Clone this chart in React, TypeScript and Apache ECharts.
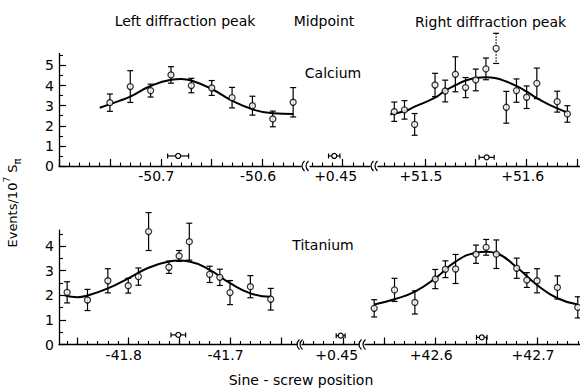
import React, { useEffect, useRef } from 'react';
import * as echarts from 'echarts';

const FONT = "'DejaVu Sans', 'Liberation Sans', sans-serif";
const INK = '#000';

// ---------- Calcium, left diffraction peak ----------
const caLeftX = [-50.75, -50.73, -50.71, -50.69, -50.67, -50.65, -50.63, -50.61, -50.59, -50.57];
const caLeftY = [3.15, 3.95, 3.75, 4.53, 4.0, 3.88, 3.4, 3.0, 2.34, 3.17];
const caLeftErr = [0.43, 0.79, 0.32, 0.41, 0.36, 0.37, 0.51, 0.47, 0.39, 0.73];
const caLeftFitX = [-50.76, -50.74, -50.73, -50.71, -50.69, -50.68, -50.67, -50.65, -50.63, -50.61, -50.59, -50.57];
const caLeftFitY = [2.9, 3.25, 3.45, 3.98, 4.29, 4.33, 4.25, 3.83, 3.25, 2.82, 2.62, 2.59];

// ---------- Calcium, right diffraction peak ----------
const caRightX = [51.47, 51.48, 51.49, 51.51, 51.52, 51.53, 51.54, 51.55, 51.56, 51.57, 51.58, 51.59, 51.6, 51.61, 51.63, 51.64];
const caRightY = [2.7, 2.79, 2.07, 4.03, 3.73, 4.56, 3.9, 4.28, 4.83, 5.85, 2.92, 3.75, 3.42, 4.11, 3.2, 2.59];
const caRightErr = [0.48, 0.46, 0.54, 0.58, 0.54, 0.87, 0.5, 0.54, 0.54, 0.75, 0.79, 0.58, 0.56, 0.76, 0.52, 0.41];
const caRightDotted = 9; // index of the point drawn with a dotted error bar
const caRightFitX = [51.466, 51.48, 51.49, 51.51, 51.52, 51.53, 51.54, 51.55, 51.56, 51.57, 51.58, 51.59, 51.6, 51.61, 51.62, 51.63, 51.64];
const caRightFitY = [2.57, 2.72, 2.95, 3.4, 3.75, 4.02, 4.25, 4.38, 4.42, 4.36, 4.2, 3.98, 3.7, 3.38, 3.1, 2.87, 2.66];

// ---------- Titanium, left diffraction peak ----------
const tiLeftX = [-41.86, -41.84, -41.82, -41.8, -41.79, -41.78, -41.76, -41.75, -41.74, -41.72, -41.71, -41.7, -41.68, -41.66];
const tiLeftY = [2.12, 1.81, 2.59, 2.39, 2.76, 4.59, 3.14, 3.6, 4.18, 2.85, 2.73, 2.11, 2.35, 1.84];
const tiLeftErr = [0.43, 0.43, 0.49, 0.3, 0.35, 0.77, 0.25, 0.22, 0.75, 0.33, 0.33, 0.49, 0.45, 0.44];
const tiLeftFitX = [-41.862, -41.85, -41.84, -41.82, -41.8, -41.78, -41.76, -41.75, -41.74, -41.72, -41.7, -41.68, -41.66];
const tiLeftFitY = [1.99, 1.92, 1.99, 2.28, 2.69, 3.12, 3.37, 3.41, 3.37, 3.03, 2.49, 2.08, 1.94];

// ---------- Titanium, right diffraction peak ----------
const tiRightX = [42.54, 42.56, 42.58, 42.6, 42.61, 42.62, 42.64, 42.65, 42.66, 42.68, 42.69, 42.7, 42.72, 42.74];
const tiRightY = [1.47, 2.22, 1.71, 2.66, 3.06, 3.07, 3.67, 3.95, 3.67, 3.1, 2.62, 2.59, 2.32, 1.51];
const tiRightErr = [0.35, 0.47, 0.47, 0.39, 0.34, 0.59, 0.37, 0.32, 0.58, 0.41, 0.3, 0.49, 0.47, 0.43];
const tiRightFitX = [42.54, 42.56, 42.58, 42.6, 42.62, 42.64, 42.65, 42.66, 42.68, 42.7, 42.72, 42.74];
const tiRightFitY = [1.63, 1.84, 2.15, 2.69, 3.37, 3.73, 3.77, 3.71, 3.14, 2.42, 1.88, 1.63];

// ---------- Peak-centre markers: [x, y, half-width] ----------
const caMarkLeft = [-50.683, 0.5, 0.0103];
const caMarkMid = [0.4418, 0.5, 0.0056];
const caMarkRight = [51.5607, 0.43, 0.0074];
const tiMarkLeft = [-41.7508, 0.39, 0.0072];
const tiMarkMid = [0.447, 0.36, 0.0044];
const tiMarkRight = [42.6457, 0.29, 0.0052];

// ---------- Tick labels ----------
const yTopTicks = [0, 1, 2, 3, 4, 5];
const yBotTicks = [0, 1, 2, 3, 4];
const caLeftTicks = [-50.7, -50.6];
const caLeftTickText = ['-50.7', '-50.6'];
const caMidTicks = [0.45];
const caMidTickText = ['+0.45'];
const caRightTicks = [51.5, 51.6];
const caRightTickText = ['+51.5', '+51.6'];
const tiLeftTicks = [-41.8, -41.7];
const tiLeftTickText = ['-41.8', '-41.7'];
const tiMidTicks = [0.45];
const tiMidTickText = ['+0.45'];
const tiRightTicks = [42.6, 42.7];
const tiRightTickText = ['+42.6', '+42.7'];

function stepValues(min: number, max: number, step: number): number[] {
  const out: number[] = [];
  let k = Math.ceil(min / step - 1e-7);
  while (k * step <= max + 1e-7) {
    out.push(Math.round(k * step * 10000) / 10000);
    k++;
  }
  return out;
}

function halfValues(maxInt: number): number[] {
  const out: number[] = [];
  for (let i = 0; i <= maxInt; i++) out.push(i + 0.5);
  return out;
}

const TOP = { top: 53.4, height: 112.6, ymax: 5.6 };
const BOT = { top: 230.1, height: 114.4, ymax: 4.65 };

const panels = [
  { row: TOP, left: 59, width: 242, xmin: -50.8, xmax: -50.5623, ticks: caLeftTicks, text: caLeftTickText, pad: 9, yTicks: yTopTicks },
  { row: TOP, left: 310, width: 60, xmin: 0.418, xmax: 0.4769, ticks: caMidTicks, text: caMidTickText, pad: 14, yTicks: null },
  { row: TOP, left: 378, width: 202, xmin: 51.454, xmax: 51.6524, ticks: caRightTicks, text: caRightTickText, pad: 8, yTicks: null },
  { row: BOT, left: 59, width: 238, xmin: -41.868, xmax: -41.6342, ticks: tiLeftTicks, text: tiLeftTickText, pad: 9, yTicks: yBotTicks },
  { row: BOT, left: 302, width: 57, xmin: 0.409, xmax: 0.465, ticks: tiMidTicks, text: tiMidTickText, pad: 14, yTicks: null },
  { row: BOT, left: 365, width: 215, xmin: 42.531, xmax: 42.7422, ticks: tiRightTicks, text: tiRightTickText, pad: 8, yTicks: null },
];

const peaks = [
  { gi: 0, x: caLeftX, y: caLeftY, e: caLeftErr, fx: caLeftFitX, fy: caLeftFitY, dotted: -1 },
  { gi: 2, x: caRightX, y: caRightY, e: caRightErr, fx: caRightFitX, fy: caRightFitY, dotted: caRightDotted },
  { gi: 3, x: tiLeftX, y: tiLeftY, e: tiLeftErr, fx: tiLeftFitX, fy: tiLeftFitY, dotted: -1 },
  { gi: 5, x: tiRightX, y: tiRightY, e: tiRightErr, fx: tiRightFitX, fy: tiRightFitY, dotted: -1 },
];

const marks = [caMarkLeft, caMarkMid, caMarkRight, tiMarkLeft, tiMarkMid, tiMarkRight];

function buildOption() {
  const grid = panels.map((p) => ({ left: p.left, width: p.width, top: p.row.top, height: p.row.height }));
  const xAxis: any[] = [];
  const yAxis: any[] = [];
  panels.forEach((p, gi) => {
    const major = stepValues(p.xmin, p.xmax, 0.05);
    const minor = stepValues(p.xmin, p.xmax, 0.01);
    xAxis.push({
      type: 'value', gridIndex: gi, min: p.xmin, max: p.xmax, position: 'bottom',
      axisLine: { show: true, onZero: false, lineStyle: { color: INK, width: 1.3 } },
      axisTick: { show: true, inside: true, length: 7, customValues: major, lineStyle: { color: INK, width: 1.2 } },
      axisLabel: {
        show: true, customValues: p.ticks, margin: 3, padding: [0, p.pad, 0, 0],
        color: INK, fontFamily: FONT, fontSize: 14,
        formatter: (v: number) => {
          let best = 0;
          p.ticks.forEach((t, i) => { if (Math.abs(t - v) < Math.abs(p.ticks[best] - v)) best = i; });
          return p.text[best];
        },
      },
      splitLine: { show: false },
    });
    xAxis.push({
      type: 'value', gridIndex: gi, min: p.xmin, max: p.xmax, position: 'bottom',
      axisLine: { show: false, onZero: false },
      axisTick: { show: true, inside: true, length: 3.5, customValues: minor, lineStyle: { color: INK, width: 1.1 } },
      axisLabel: { show: false },
      splitLine: { show: false },
    });
    const showY = !!p.yTicks;
    yAxis.push({
      type: 'value', gridIndex: gi, min: 0, max: p.row.ymax, position: 'left', show: showY,
      axisLine: { show: showY, onZero: false, lineStyle: { color: INK, width: 1.3 } },
      axisTick: { show: showY, inside: true, length: 7, customValues: p.yTicks || [0], lineStyle: { color: INK, width: 1.2 } },
      axisLabel: {
        show: showY, customValues: p.yTicks || [0], margin: 5, color: INK, fontFamily: FONT, fontSize: 14,
        formatter: (v: number) => String(Math.round(v)),
      },
      splitLine: { show: false },
    });
  });
  // minor y ticks on the two left panels
  [0, 3].forEach((gi) => {
    const p = panels[gi];
    yAxis.push({
      type: 'value', gridIndex: gi, min: 0, max: p.row.ymax, position: 'left',
      axisLine: { show: false, onZero: false },
      axisTick: { show: true, inside: true, length: 4, customValues: halfValues((p.yTicks as number[]).length - 1), lineStyle: { color: INK, width: 1.1 } },
      axisLabel: { show: false },
      splitLine: { show: false },
    });
  });

  const series: any[] = [];
  peaks.forEach((pk) => {
    const dotted = pk.dotted;
    series.push({
      type: 'custom', xAxisIndex: pk.gi * 2, yAxisIndex: pk.gi, z: 2, clip: false,
      data: pk.x.map((x, i) => [x, pk.y[i], pk.e[i]]),
      renderItem: (params: any, api: any) => {
        const x = api.value(0), y = api.value(1), e = api.value(2);
        const a = api.coord([x, y + e]);
        const b = api.coord([x, y - e]);
        const cap = 3;
        const dash = params.dataIndex === dotted;
        const st = { stroke: INK, lineWidth: 1.2, lineDash: dash ? [1.5, 1.5] : null, fill: null };
        return {
          type: 'group',
          children: [
            { type: 'line', shape: { x1: a[0], y1: a[1], x2: b[0], y2: b[1] }, style: st },
            { type: 'line', shape: { x1: a[0] - cap, y1: a[1], x2: a[0] + cap, y2: a[1] }, style: { stroke: INK, lineWidth: 1.2 } },
            { type: 'line', shape: { x1: b[0] - cap, y1: b[1], x2: b[0] + cap, y2: b[1] }, style: { stroke: INK, lineWidth: 1.2 } },
          ],
        };
      },
    });
    series.push({
      type: 'line', xAxisIndex: pk.gi * 2, yAxisIndex: pk.gi, z: 3, smooth: 0.5, showSymbol: false, symbol: 'none',
      lineStyle: { color: INK, width: 2 },
      data: pk.fx.map((x, i) => [x, pk.fy[i]]),
    });
    series.push({
      type: 'scatter', xAxisIndex: pk.gi * 2, yAxisIndex: pk.gi, z: 4, clip: false, symbol: 'circle', symbolSize: 6,
      itemStyle: { color: '#fff', borderColor: INK, borderWidth: 1.3 },
      data: pk.x.map((x, i) => [x, pk.y[i]]),
    });
  });
  marks.forEach((m, gi) => {
    series.push({
      type: 'custom', xAxisIndex: gi * 2, yAxisIndex: gi, z: 4, clip: false,
      data: [m],
      renderItem: (params: any, api: any) => {
        const x = api.value(0), y = api.value(1), h = api.value(2);
        const l = api.coord([x - h, y]);
        const r = api.coord([x + h, y]);
        const c = api.coord([x, y]);
        const st = { stroke: INK, lineWidth: 1.2 };
        return {
          type: 'group',
          children: [
            { type: 'line', shape: { x1: l[0], y1: l[1], x2: r[0], y2: r[1] }, style: st },
            { type: 'line', shape: { x1: l[0], y1: l[1] - 2.5, x2: l[0], y2: l[1] + 2.5 }, style: st },
            { type: 'line', shape: { x1: r[0], y1: r[1] - 2.5, x2: r[0], y2: r[1] + 2.5 }, style: st },
            { type: 'circle', shape: { cx: c[0], cy: c[1], r: 2.5 }, style: { fill: '#fff', stroke: INK, lineWidth: 1.2 } },
          ],
        };
      },
    });
  });

  const txt = (text: string, x: number, y: number, size = 14) => ({
    type: 'text', x, y, z: 10,
    style: {
      text, fill: INK, font: `${size}px ${FONT}`, fontSize: size, fontFamily: FONT,
      align: 'center', verticalAlign: 'middle', textAlign: 'center', textVerticalAlign: 'middle',
    },
  });

  const brk = (x: number, y: number) => ({
    type: 'bezierCurve', z: 10,
    shape: { x1: x + 1.5, y1: y - 5, cpx1: x - 1.8, cpy1: y - 2, cpx2: x - 1.8, cpy2: y + 2, x2: x + 1.5, y2: y + 5 },
    style: { stroke: INK, lineWidth: 1.2, fill: null },
  });

  const graphic: any[] = [
    txt('Left diffraction peak', 185, 21),
    txt('Midpoint', 324, 21),
    txt('Right diffraction peak', 490.5, 22),
    txt('Calcium', 333, 73),
    txt('Titanium', 323, 245),
    txt('Sine - screw position', 301, 380),
    {
      type: 'text', x: 12.5, y: 203, rotation: Math.PI / 2, z: 10,
      style: {
        text: '{a|Events/10}{b|7}{a| S}{c|π}',
        align: 'center', verticalAlign: 'middle', textAlign: 'center', textVerticalAlign: 'middle',
        fill: INK, fontFamily: FONT, fontSize: 13,
        rich: {
          a: { fontSize: 13, fontFamily: FONT, fill: INK, color: INK, lineHeight: 20 },
          b: { fontSize: 9, fontFamily: FONT, fill: INK, color: INK, lineHeight: 9, verticalAlign: 'top' },
          c: { fontSize: 10, fontFamily: FONT, fill: INK, color: INK, lineHeight: 10, verticalAlign: 'bottom' },
        },
      },
    },
    brk(303, 166), brk(307, 166), brk(372, 166), brk(376, 166),
    brk(298, 344.5), brk(301, 344.5), brk(360, 344.5), brk(364, 344.5),
  ];

  return {
    animation: false,
    backgroundColor: '#fff',
    grid, xAxis, yAxis, series, graphic,
  };
}

export default function App() {
  const ref = useRef<HTMLDivElement>(null);
  useEffect(() => {
    if (!ref.current) return;
    const chart = echarts.init(ref.current, null, { renderer: 'svg' });
    chart.setOption(buildOption() as any);
    return () => chart.dispose();
  }, []);
  return (
    <div
      ref={ref}
      style={{ position: 'fixed', left: 0, top: 0, width: 580, height: 389, background: '#fff' }}
    />
  );
}
